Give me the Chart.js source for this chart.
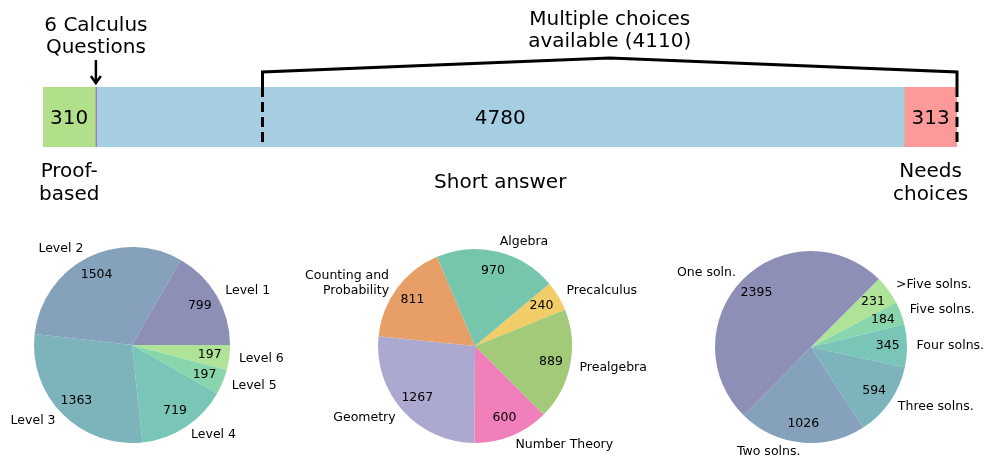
<!DOCTYPE html>
<html>
<head>
<meta charset="utf-8">
<script src="https://cdn.jsdelivr.net/npm/chart.js@4.4.0/dist/chart.umd.min.js"></script>
<style>
    body { margin: 0; background: #fff; }
    #wrap { position: relative; width: 993px; height: 459px; overflow: hidden; }
    canvas { position: absolute; }
</style>
</head>
<body>
<div id="wrap">
    <canvas id="splitChart" width="993" height="215" style="left:0;top:0"></canvas>
    <canvas id="levelChart" width="300" height="229" style="left:0;top:230px"></canvas>
    <canvas id="subjectChart" width="370" height="229" style="left:290px;top:230px"></canvas>
    <canvas id="solnChart" width="333" height="229" style="left:660px;top:230px"></canvas>
</div>
<script>
// Разбиение вопросов (верхняя полоса)
const splitLabels = ['Proof-\nbased', '6 Calculus\nQuestions', 'Short answer', 'Needs\nchoices'];
const splitCounts = [310, 6, 4780, 313];
const splitColors = ['#b2df8a', '#9d5aa8', '#a6cee3', '#fb9a99'];
const multipleChoiceCount = 4110;

// Уровни сложности
const levelLabels = ['Level 1', 'Level 2', 'Level 3', 'Level 4', 'Level 5', 'Level 6'];
const levelCounts = [799, 1504, 1363, 719, 197, 197];

// Разделы
const subjectLabels = ['Algebra', 'Counting and\nProbability', 'Geometry', 'Number Theory', 'Prealgebra', 'Precalculus'];
const subjectCounts = [970, 811, 1267, 600, 889, 240];

// Количество решений
const solnLabels = ['One soln.', 'Two solns.', 'Three solns.', 'Four solns.', 'Five solns.', '>Five solns.'];
const solnCounts = [2395, 1026, 594, 345, 184, 231];

const viridisColors = ['#8d8fb7', '#85a1bb', '#7db4bb', '#79c5b7', '#89d6ac', '#afe397'];
const dark2Colors = ['#76c5ad', '#e89f67', '#aca9d1', '#f17fb9', '#a3ca78', '#f0cd67'];

const FONT = '"DejaVu Sans", sans-serif';

// Несколько строк вокруг заданной линии y
function drawLines(ctx, lines, x, y, lineHeight) {
    lines.forEach((line, k) => {
        ctx.fillText(line, x, y + (k - (lines.length - 1) / 2) * lineHeight);
    });
}

// Подписи и скобка над полосой
const splitAnnotations = {
    id: 'splitAnnotations',
    afterDraw(chart) {
        const ctx = chart.ctx;
        const xs = chart.scales.x;
        const area = chart.chartArea;
        const total = splitCounts.reduce((a, b) => a + b, 0);

        ctx.save();
        ctx.font = '20px ' + FONT;
        ctx.fillStyle = '#000';
        ctx.strokeStyle = '#000';
        ctx.textBaseline = 'alphabetic';
        ctx.textAlign = 'center';

        let acc = 0;
        splitCounts.forEach((v, i) => {
            const x0 = xs.getPixelForValue(acc);
            const x1 = xs.getPixelForValue(acc + v);
            acc += v;
            const cx = (x0 + x1) / 2;
            const lines = splitLabels[i].split('\n');
            if (x1 - x0 > 30) {
                ctx.fillText(String(v), cx, (area.top + area.bottom) / 2 + 7);
                drawLines(ctx, lines, cx, area.bottom + 41, 23);
            } else {
                // маленький сегмент: подпись сверху со стрелкой
                drawLines(ctx, lines, cx, 42, 22.5);
                ctx.lineWidth = 2.5;
                ctx.beginPath();
                ctx.moveTo(cx, 60);
                ctx.lineTo(cx, area.top - 4);
                ctx.stroke();
                ctx.beginPath();
                ctx.moveTo(cx - 5, area.top - 11);
                ctx.lineTo(cx, area.top - 4);
                ctx.lineTo(cx + 5, area.top - 11);
                ctx.stroke();
            }
        });

        // скобка "Multiple choices"
        const l = xs.getPixelForValue(total - multipleChoiceCount);
        const r = xs.getPixelForValue(total);
        const mid = (l + r) / 2;
        ctx.lineWidth = 3;
        ctx.beginPath();
        ctx.moveTo(l, area.top);
        ctx.lineTo(l, area.top - 15);
        ctx.lineTo(mid, area.top - 29);
        ctx.lineTo(r, area.top - 15);
        ctx.lineTo(r, area.top);
        ctx.stroke();

        ctx.setLineDash([10, 5]);
        [l, r].forEach(x => {
            ctx.beginPath();
            ctx.moveTo(x, area.top);
            ctx.lineTo(x, area.bottom);
            ctx.stroke();
        });
        ctx.setLineDash([]);

        drawLines(ctx, ['Multiple choices', `available (${multipleChoiceCount})`], mid, 36, 22);
        ctx.restore();
    }
};

new Chart(document.getElementById('splitChart'), {
    type: 'bar',
    data: {
        labels: [''],
        datasets: splitCounts.map((v, i) => ({
            label: splitLabels[i],
            data: [v],
            backgroundColor: splitColors[i],
            borderWidth: 0,
            barPercentage: 1,
            categoryPercentage: 1
        }))
    },
    options: {
        indexAxis: 'y',
        responsive: false,
        animation: false,
        devicePixelRatio: 1,
        events: [],
        layout: { padding: { left: 43, right: 36, top: 87, bottom: 68 } },
        plugins: { legend: { display: false }, tooltip: { enabled: false } },
        scales: {
            x: { stacked: true, min: 0, max: splitCounts.reduce((a, b) => a + b, 0), display: false },
            y: { stacked: true, display: false }
        }
    },
    plugins: [splitAnnotations]
});

// Подписи секторов: название снаружи, число внутри
const pieLabels = {
    id: 'pieLabels',
    afterDatasetsDraw(chart) {
        const ctx = chart.ctx;
        const meta = chart.getDatasetMeta(0);
        const labels = chart.data.labels;
        const values = chart.data.datasets[0].data;
        ctx.save();
        ctx.font = '12.5px ' + FONT;
        ctx.fillStyle = '#000';
        ctx.textBaseline = 'middle';
        meta.data.forEach((arc, i) => {
            const p = arc.getProps(['x', 'y', 'startAngle', 'endAngle', 'outerRadius'], true);
            const a = (p.startAngle + p.endAngle) / 2;
            const cos = Math.cos(a), sin = Math.sin(a);
            ctx.textAlign = 'center';
            ctx.fillText(String(values[i]), p.x + 0.8 * p.outerRadius * cos, p.y + 0.8 * p.outerRadius * sin);
            ctx.textAlign = cos < 0 ? 'right' : 'left';
            drawLines(ctx, labels[i].split('\n'),
                p.x + 1.1 * p.outerRadius * cos, p.y + 1.1 * p.outerRadius * sin, 15);
        });
        ctx.restore();
    }
};

// Chart.js рисует по часовой стрелке, поэтому порядок разворачиваем
function makePie(id, labels, counts, colors, startAngle, cx, cy, r) {
    const canvas = document.getElementById(id);
    return new Chart(canvas, {
        type: 'pie',
        data: {
            labels: [...labels].reverse(),
            datasets: [{
                data: [...counts].reverse(),
                backgroundColor: [...colors].reverse(),
                borderWidth: 0,
                hoverOffset: 0
            }]
        },
        options: {
            responsive: false,
            animation: false,
            devicePixelRatio: 1,
            events: [],
            rotation: 90 - startAngle,
            layout: {
                padding: {
                    left: cx - r,
                    right: canvas.width - (cx + r),
                    top: cy - r,
                    bottom: canvas.height - (cy + r)
                }
            },
            plugins: { legend: { display: false }, tooltip: { enabled: false } }
        },
        plugins: [pieLabels]
    });
}

makePie('levelChart', levelLabels, levelCounts, viridisColors, 0, 132, 115, 98);
makePie('subjectChart', subjectLabels, subjectCounts, dark2Colors, 40, 185, 116, 97);
makePie('solnChart', solnLabels, solnCounts, viridisColors, 45, 151, 117, 96);
</script>
</body>
</html>
